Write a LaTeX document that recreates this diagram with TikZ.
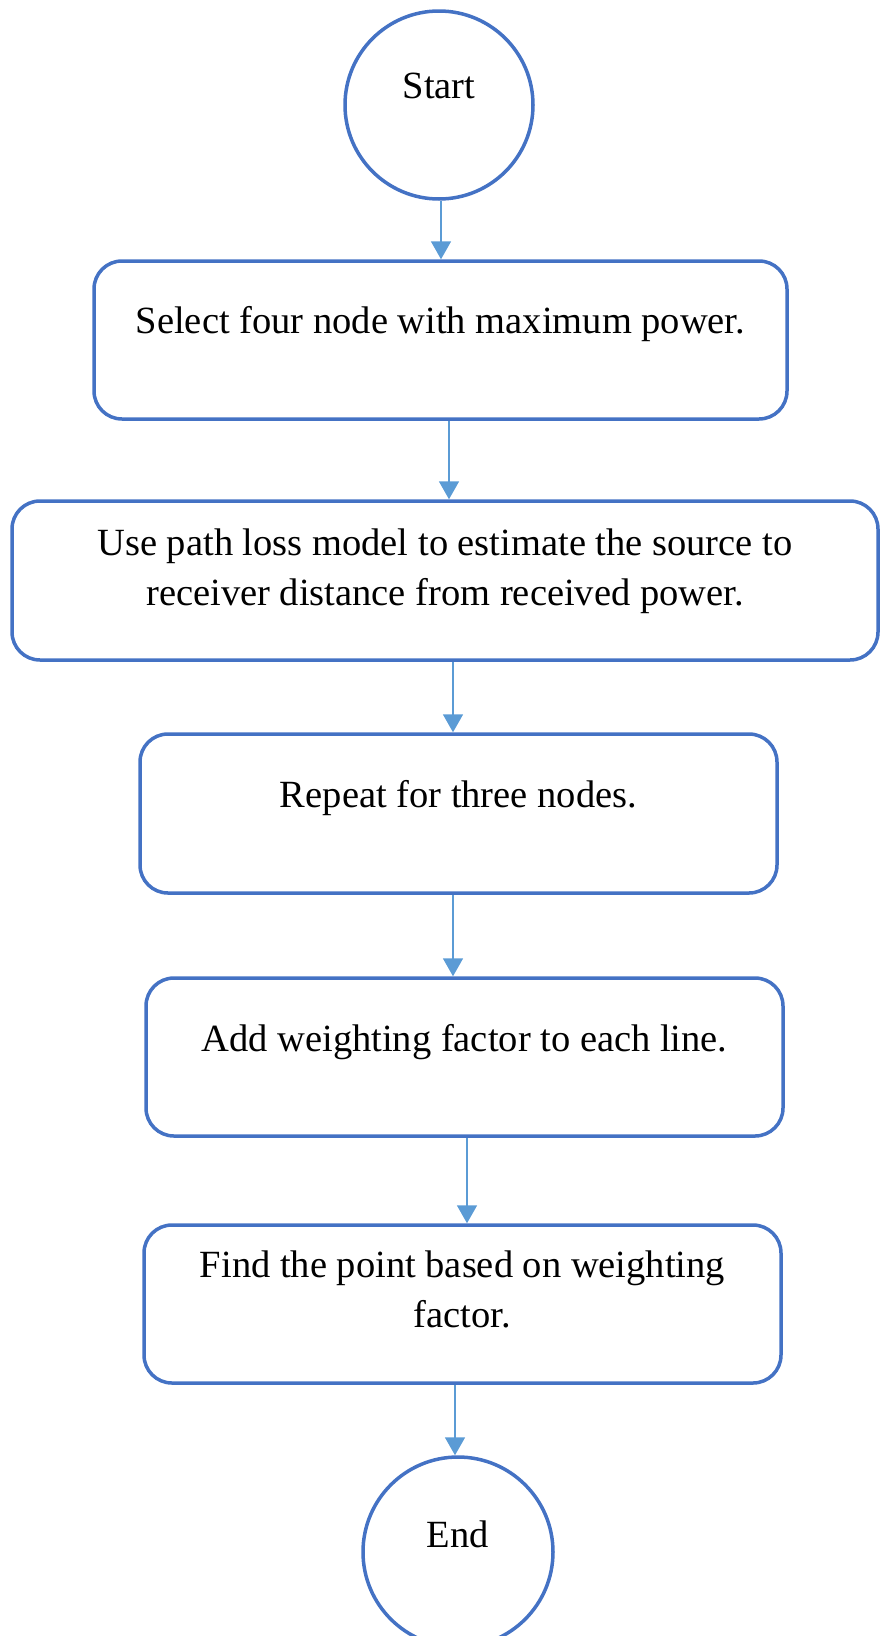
\documentclass[tikz,border=0pt]{standalone}
\usepackage{fontspec}
\setmainfont{Liberation Serif}
\usetikzlibrary{arrows.meta}
\definecolor{boxblue}{HTML}{4472C4}
\definecolor{arrowblue}{HTML}{5B9BD5}
\begin{document}
\begin{tikzpicture}[x=1pt,y=-1pt,
  every node/.style={font=\fontsize{38.5}{49.5}\selectfont, text=black},
  terminal/.style={circle, draw=boxblue, line width=3.5pt, inner sep=0pt, text height=28pt},
  stepbox/.style={rectangle, draw=boxblue, line width=3.5pt, rounded corners=28pt,
                  align=center, inner sep=0pt},
  flow/.style={draw=arrowblue, line width=1.8pt, -{Triangle[width=20pt,length=18pt]}},
]
\useasboundingbox (0,0) rectangle (879,1636);

% terminals and process steps
\node[terminal, minimum size=188pt, text depth=42pt] (start) at (439,105) {Start};
\node[stepbox, minimum width=693pt, minimum height=158pt, text height=28pt, text depth=42pt]
  (select) at (440.5,340) {Select four node with maximum power.};
\node[stepbox, minimum width=866pt, minimum height=159pt, text height=77.5pt, text depth=28.5pt]
  (pathloss) at (445,580.5)
  {Use path loss model to estimate the source to\\receiver distance from received power.};
\node[stepbox, minimum width=637pt, minimum height=159pt, text height=28pt, text depth=41pt]
  (repeat) at (458.5,813.5) {Repeat for three nodes.};
\node[stepbox, minimum width=637pt, minimum height=158pt, text height=28pt, text depth=40pt]
  (weight) at (464.5,1057) {Add weighting factor to each line.};
\node[stepbox, minimum width=637pt, minimum height=158pt, text height=77.5pt, text depth=31.5pt]
  (point) at (462.5,1304) {Find the point based on weighting\\factor.};
\node[terminal, minimum size=190pt, text depth=38pt] (end) at (458,1552) {End};

% horizontal positions of the connectors
\coordinate (c1) at (441,0);
\coordinate (c2) at (449,0);
\coordinate (c3) at (453,0);
\coordinate (c4) at (453,0);
\coordinate (c5) at (467,0);
\coordinate (c6) at (455,0);

\draw[flow] (start.south -| c1) -- (select.north -| c1);
\draw[flow] (select.south -| c2) -- (pathloss.north -| c2);
\draw[flow] (pathloss.south -| c3) -- (repeat.north -| c3);
\draw[flow] (repeat.south -| c4) -- (weight.north -| c4);
\draw[flow] (weight.south -| c5) -- (point.north -| c5);
\draw[flow] (point.south -| c6) -- (end.north -| c6);
\end{tikzpicture}
\end{document}
